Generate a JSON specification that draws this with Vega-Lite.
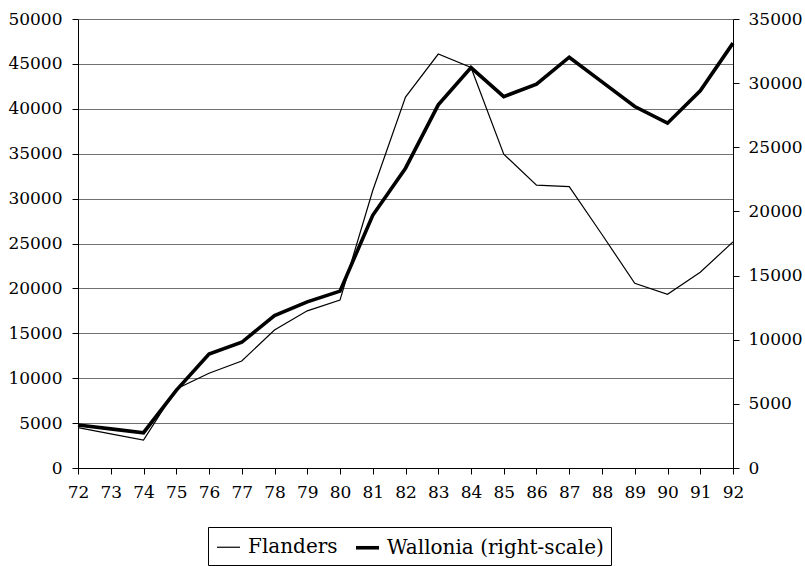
{
  "$schema": "https://vega.github.io/schema/vega-lite/v6.json",
  "autosize": "none",
  "width": 655,
  "height": 449,
  "padding": {"left": 78, "top": 19, "right": 72, "bottom": 98},
  "background": "white",
  "config": {
    "view": {"stroke": null},
    "font": "DejaVu Serif",
    "axis": {"labelFont": "DejaVu Serif", "labelFontSize": 17, "labelColor": "black", "domainColor": "black", "tickColor": "black", "tickSize": 6},
    "legend": {"labelFont": "DejaVu Serif"}
  },
  "data": {
    "values": [
      {"year": 72, "series": "Flanders", "value": 4500},
      {"year": 73, "series": "Flanders", "value": 3800},
      {"year": 74, "series": "Flanders", "value": 3120},
      {"year": 75, "series": "Flanders", "value": 8800},
      {"year": 76, "series": "Flanders", "value": 10550},
      {"year": 77, "series": "Flanders", "value": 11920},
      {"year": 78, "series": "Flanders", "value": 15370},
      {"year": 79, "series": "Flanders", "value": 17500},
      {"year": 80, "series": "Flanders", "value": 18700},
      {"year": 81, "series": "Flanders", "value": 30900},
      {"year": 82, "series": "Flanders", "value": 41300},
      {"year": 83, "series": "Flanders", "value": 46100},
      {"year": 84, "series": "Flanders", "value": 44600},
      {"year": 85, "series": "Flanders", "value": 34950},
      {"year": 86, "series": "Flanders", "value": 31500},
      {"year": 87, "series": "Flanders", "value": 31340},
      {"year": 88, "series": "Flanders", "value": 26000},
      {"year": 89, "series": "Flanders", "value": 20570},
      {"year": 90, "series": "Flanders", "value": 19350},
      {"year": 91, "series": "Flanders", "value": 21800},
      {"year": 92, "series": "Flanders", "value": 25180},
      {"year": 72, "series": "Wallonia (right-scale)", "value": 3350},
      {"year": 73, "series": "Wallonia (right-scale)", "value": 3050},
      {"year": 74, "series": "Wallonia (right-scale)", "value": 2750},
      {"year": 75, "series": "Wallonia (right-scale)", "value": 6050},
      {"year": 76, "series": "Wallonia (right-scale)", "value": 8890},
      {"year": 77, "series": "Wallonia (right-scale)", "value": 9800},
      {"year": 78, "series": "Wallonia (right-scale)", "value": 11880},
      {"year": 79, "series": "Wallonia (right-scale)", "value": 12950},
      {"year": 80, "series": "Wallonia (right-scale)", "value": 13790},
      {"year": 81, "series": "Wallonia (right-scale)", "value": 19700},
      {"year": 82, "series": "Wallonia (right-scale)", "value": 23370},
      {"year": 83, "series": "Wallonia (right-scale)", "value": 28310},
      {"year": 84, "series": "Wallonia (right-scale)", "value": 31210},
      {"year": 85, "series": "Wallonia (right-scale)", "value": 28950},
      {"year": 86, "series": "Wallonia (right-scale)", "value": 29920},
      {"year": 87, "series": "Wallonia (right-scale)", "value": 32020},
      {"year": 88, "series": "Wallonia (right-scale)", "value": 30100},
      {"year": 89, "series": "Wallonia (right-scale)", "value": 28180},
      {"year": 90, "series": "Wallonia (right-scale)", "value": 26880},
      {"year": 91, "series": "Wallonia (right-scale)", "value": 29400},
      {"year": 92, "series": "Wallonia (right-scale)", "value": 33120}
    ]
  },
  "encoding": {
    "x": {
      "field": "year", "type": "quantitative",
      "scale": {"domain": [72, 92], "nice": false, "zero": false},
      "axis": {"title": null, "values": [72,73,74,75,76,77,78,79,80,81,82,83,84,85,86,87,88,89,90,91,92], "format": "d", "grid": false, "labelPadding": 10, "labelFlush": false}
    }
  },
  "layer": [
    {
      "transform": [{"filter": "datum.series == 'Flanders'"}],
      "mark": {"type": "line", "color": "black", "strokeJoin": "miter"},
      "encoding": {
        "y": {
          "field": "value", "type": "quantitative",
          "scale": {"domain": [0, 50000], "nice": false},
          "axis": {"title": null, "orient": "left", "values": [0,5000,10000,15000,20000,25000,30000,35000,40000,45000,50000], "format": "d", "grid": true, "gridColor": "#707070", "gridWidth": 1, "labelPadding": 10}
        },
        "strokeWidth": {
          "field": "series", "type": "nominal",
          "scale": {"domain": ["Flanders", "Wallonia (right-scale)"], "range": [1.2, 3.6]},
          "legend": {
            "title": null, "orient": "none", "legendX": 130, "legendY": 508,
            "direction": "horizontal", "columns": 2,
            "labelFontSize": 20, "labelColor": "black", "labelLimit": 400,
            "symbolType": "stroke", "symbolSize": 529, "symbolStrokeColor": "black",
            "strokeColor": "black", "padding": 7, "columnPadding": 10, "labelOffset": 6
          }
        }
      }
    },
    {
      "transform": [{"filter": "datum.series != 'Flanders'"}],
      "mark": {"type": "line", "color": "black", "strokeJoin": "miter"},
      "encoding": {
        "y": {
          "field": "value", "type": "quantitative",
          "scale": {"domain": [0, 35000], "nice": false},
          "axis": {"title": null, "orient": "right", "values": [0,5000,10000,15000,20000,25000,30000,35000], "format": "d", "grid": false, "labelPadding": 9}
        },
        "strokeWidth": {"field": "series", "type": "nominal"}
      }
    }
  ],
  "resolve": {"scale": {"y": "independent"}}
}
